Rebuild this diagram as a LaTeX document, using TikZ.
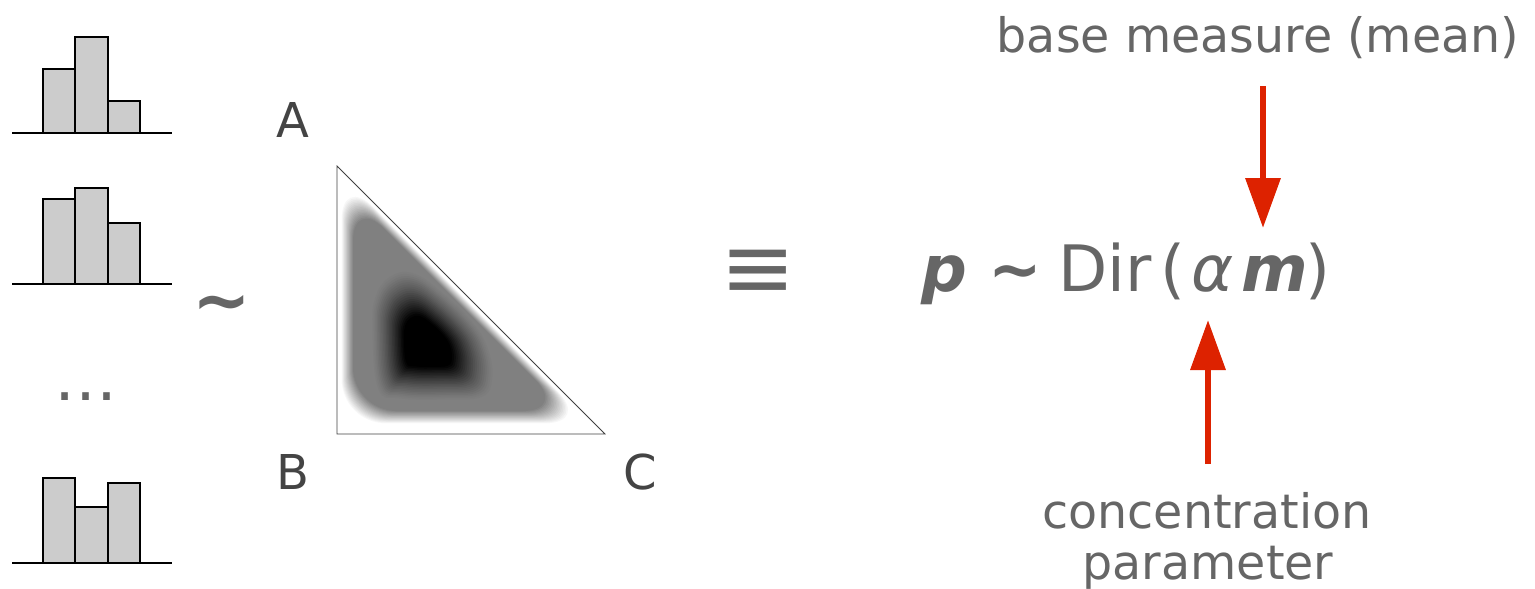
\documentclass[tikz,border=0pt]{standalone}
\usepackage{fontspec}
\setmainfont{DejaVu Sans}
\usetikzlibrary{arrows.meta}
\definecolor{txt}{HTML}{666666}
\definecolor{lbl}{HTML}{444444}
\definecolor{arr}{HTML}{DD2200}
\definecolor{barfill}{HTML}{CCCCCC}
\begin{document}
\begin{tikzpicture}[x=1pt,y=-1pt,
  hbar/.style={fill=barfill,draw=black,line width=1.2pt},
  hbase/.style={draw=black,line width=1.5pt},
  vlabel/.style={text=lbl,font=\fontsize{48}{58}\selectfont,inner sep=0,anchor=base},
  note/.style={text=txt,font=\fontsize{47.5}{57}\selectfont,inner sep=0,anchor=base},
  symb/.style={text=txt,inner sep=0},
  redarrow/.style={draw=arr,fill=arr,line width=6.5pt,-{Triangle[length=50pt,width=34pt]}},
]
\useasboundingbox (0,0) rectangle (1535,589);

% histograms
\foreach \base/\ha/\hb/\hc in {133/69/37/101, 284/199/188/223, 563/478/507/483}{
  \draw[hbar] (43,\base) rectangle (75,\ha);
  \draw[hbar] (75,\base) rectangle (108,\hb);
  \draw[hbar] (108,\base) rectangle (140,\hc);
  \draw[hbase] (12,\base) -- (172,\base);
}
\node[symb,font=\fontsize{63}{70}\selectfont,anchor=base] (dots) at (86,400) {…};
\node[symb,font=\bfseries\fontsize{70}{80}\selectfont] (sim) at (222,310) {\symbol{126}};

% simplex with density
\coordinate (tA) at (337,166);
\coordinate (tB) at (337,434);
\coordinate (tC) at (605,434);
\begin{scope}
  \clip (tA) -- (tB) -- (tC) -- cycle;
  \foreach \k in {0,...,16}{
    \pgfmathsetmacro\t{\k/16}
    \pgfmathsetmacro\pct{100*\t}
    \pgfmathsetmacro\ia{4+12*\t}
    \pgfmathsetmacro\ib{10+13*\t}
    \pgfmathsetmacro\ih{1.414*(3+8*\t)}
    \fill[gray!\pct!white, rounded corners=44pt]
      ({337+\ia},{166+\ia+\ih}) -- ({337+\ia},{434-\ib}) -- ({605-\ib-\ih},{434-\ib}) -- cycle;
  }
  \foreach \i in {0,...,36}{
    \pgfmathsetmacro\sc{1-\i/36}
    \pgfmathsetmacro\dk{100*min(1,(\i/36/0.6))^1.3}
    \fill[black!\dk!gray, scale around={\sc:(425,345)}]
      plot[smooth cycle, tension=0.7] coordinates
      {(371,330) (374,296) (389,275) (412,271) (440,289) (474,322) (490,350) (494,380) (484,398) (450,401) (400,400) (377,390)};
  }
\end{scope}
\draw[line width=0.8pt, draw=black!75] (tA) -- (tB) -- (tC) -- cycle;
\node[vlabel] (lA) at (293,137) {A};
\node[vlabel] (lB) at (293,489) {B};
\node[vlabel] (lC) at (640,489) {C};

\node[symb,font=\fontsize{90}{100}\selectfont] (equiv) at (758,274) {≡};

% formula
\node[symb,font=\fontsize{64}{70}\selectfont,anchor=base west] (dir) at (921,291)
  {\textbf{\textit{p}}\hspace{21pt}\textbf{\symbol{126}}\hspace{17pt}Dir\hspace{9pt}(\hspace{6pt}\textit{α}\hspace{7pt}\textbf{\textit{m}}\hspace{-2pt})};

\node[note] (bm) at (1258,52) {base measure (mean)};
\node[note] (cp1) at (1207,528) {concentration};
\node[note] (cp2) at (1208,579) {parameter};

\coordinate (bmfoot) at (1263,86);
\coordinate (mhead) at (1263,228);
\coordinate (cpfoot) at (1208,464);
\coordinate (ahead) at (1208,320);
\draw[redarrow] (bmfoot) -- (mhead);
\draw[redarrow] (cpfoot) -- (ahead);
\end{tikzpicture}
\end{document}
